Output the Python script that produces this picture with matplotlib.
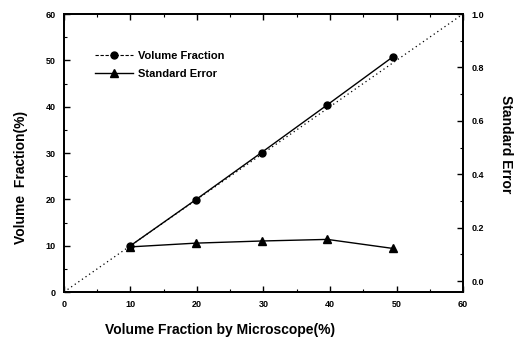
import matplotlib.pyplot as plt
from matplotlib.lines import Line2D
from matplotlib.ticker import MultipleLocator

plt.rcParams['font.family'] = ['Liberation Sans', 'DejaVu Sans']

# data
micro_x = [10, 19.8, 29.7, 39.6, 49.5]
volume_fraction = [10.0, 19.9, 30.1, 40.4, 50.8]
std_error = [0.128, 0.142, 0.150, 0.156, 0.122]
diag = [0, 60]

fig = plt.figure(figsize=(5.21, 3.39), dpi=100)
ax = fig.add_axes([0.1228, 0.1386, 0.7659, 0.8201])
ax2 = ax.twinx()

ax.plot(diag, diag, linestyle=(0, (1, 2.5)), color='black', linewidth=0.9)
ax.plot(micro_x, volume_fraction, color='black', linewidth=1.0,
        marker='o', markersize=5)
ax2.plot(micro_x, std_error, color='black', linewidth=1.0,
         marker='^', markersize=5.5)

ax.set_xlim(0, 60)
ax.set_ylim(0, 60)
ax2.set_ylim(-0.041, 1.0)

ax.xaxis.set_major_locator(MultipleLocator(10))
ax.xaxis.set_minor_locator(MultipleLocator(5))
ax.yaxis.set_major_locator(MultipleLocator(10))
ax.yaxis.set_minor_locator(MultipleLocator(5))
ax2.yaxis.set_major_locator(MultipleLocator(0.2))
ax2.yaxis.set_minor_locator(MultipleLocator(0.1))

ax.tick_params(which='both', direction='in', top=True, labelsize=6.5, pad=6)
ax.tick_params(which='major', length=4, width=1.0)
ax.tick_params(which='minor', length=2.5, width=0.8)
ax2.tick_params(which='both', direction='in', labelsize=6.5, pad=6)
ax2.tick_params(which='major', length=4, width=1.0)
ax2.tick_params(which='minor', length=2.5, width=0.8)
for lab in ax.get_xticklabels() + ax.get_yticklabels() + ax2.get_yticklabels():
    lab.set_fontweight('bold')
ax2.set_yticklabels(['%.1f' % t for t in ax2.get_yticks()])

for a in (ax, ax2):
    for s in a.spines.values():
        s.set_linewidth(1.3)

fig.text(0.422, 0.027, 'Volume Fraction by Microscope(%)', fontsize=10,
         fontweight='bold', ha='center', va='center')
fig.text(0.040, 0.478, 'Volume  Fraction(%)', fontsize=10, fontweight='bold',
         ha='center', va='center', rotation=90)
fig.text(0.972, 0.575, 'Standard Error', fontsize=10, fontweight='bold',
         ha='center', va='center', rotation=270)

h1 = Line2D([], [], color='black', linewidth=0.8, linestyle=(0, (3, 1.5)),
            marker='o', markersize=5)
h2 = Line2D([], [], color='black', linewidth=1.0, marker='^', markersize=5.5)
leg = ax.legend(handles=[h1, h2], labels=['Volume Fraction', 'Standard Error'],
                loc='upper left', bbox_to_anchor=(0.0775, 0.8675),
                frameon=False, fontsize=8, handlelength=3.4, handletextpad=0.45,
                labelspacing=0.75, borderaxespad=0, borderpad=0)
for t in leg.get_texts():
    t.set_fontweight('bold')

fig.savefig('out.png', dpi=100)
